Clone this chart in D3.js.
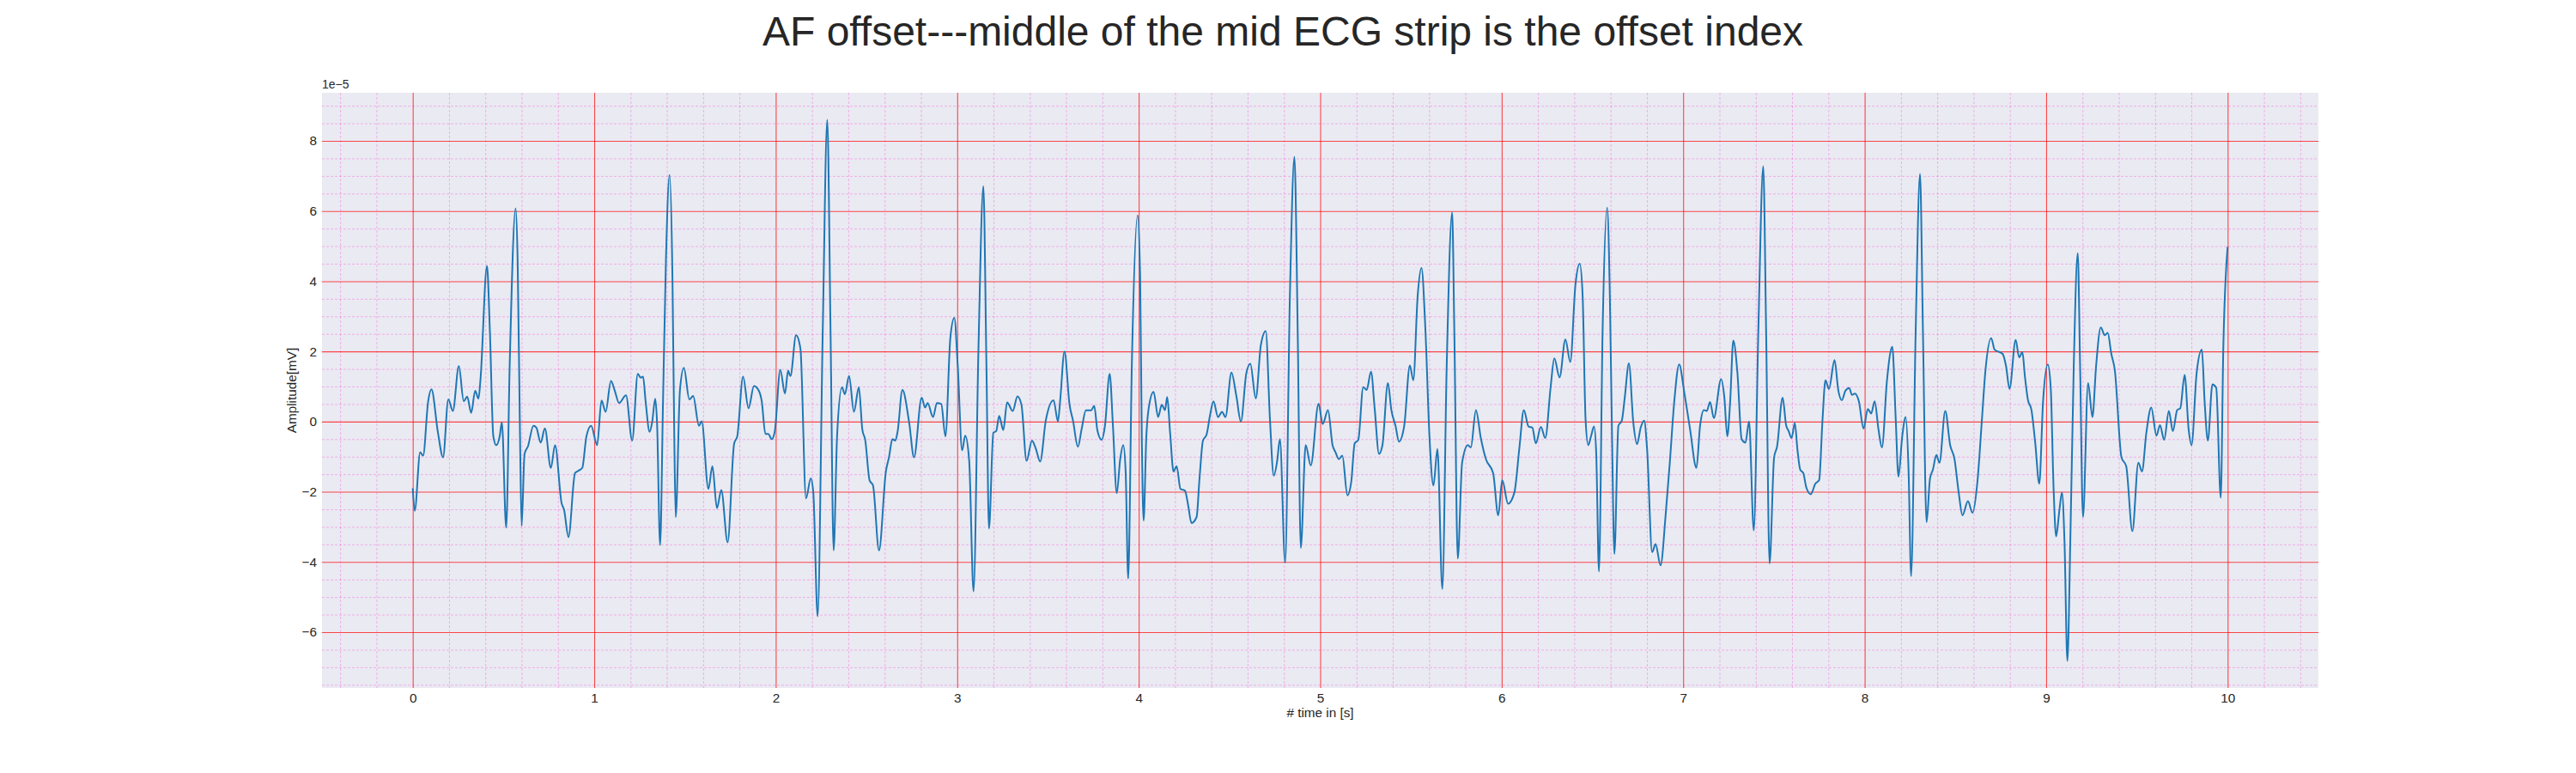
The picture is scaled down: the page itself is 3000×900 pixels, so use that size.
<!DOCTYPE html>
<html>
<head>
<meta charset="utf-8">
<script src="https://cdn.jsdelivr.net/npm/d3@7"></script>
<style>
  body { margin: 0; background: #fff; }
  svg text { font-family: "Liberation Sans", Arial, sans-serif; fill: #262626; }
</style>
</head>
<body>
<svg id="chart"></svg>
<script>
var titleText = "AF offset---middle of the mid ECG strip is the offset index";
var xLabel = "# time in [s]";
var yLabel = "Amplitude[mV]";
var offsetLabel = "1e\u22125";

// sample times, seconds
var timeSec = [
  0.000, 0.011, 0.041, 0.057, 0.085, 0.103, 0.139, 0.167, 0.196, 0.221, 0.254, 0.281, 0.300, 0.322, 0.344, 0.362, 0.373, 0.409, 0.425, 0.444,
  0.460, 0.479, 0.491, 0.515, 0.534, 0.567, 0.578, 0.591, 0.600, 0.616, 0.635, 0.665, 0.681, 0.705, 0.728, 0.761, 0.784, 0.820, 0.834, 0.858,
  0.894, 0.913, 0.934, 0.957, 0.983, 1.016, 1.040, 1.063, 1.092, 1.112, 1.137, 1.175, 1.209, 1.240,
  1.256, 1.269, 1.283, 1.305, 1.319, 1.336, 1.346, 1.363, 1.379, 1.395, 1.415, 1.431, 1.441, 1.449, 1.472, 1.494, 1.524, 1.545, 1.577, 1.592,
  1.629, 1.651, 1.676, 1.700, 1.735, 1.771, 1.788, 1.820, 1.850, 1.880, 1.907, 1.923, 1.943, 1.959, 1.978, 1.995, 2.025, 2.051, 2.068, 2.081,
  2.112, 2.136, 2.167, 2.193, 2.207, 2.231, 2.259, 2.284, 2.302, 2.319, 2.338, 2.365, 2.381, 2.404, 2.431, 2.458,
  2.477, 2.493, 2.517, 2.536, 2.569, 2.607, 2.624, 2.643, 2.659, 2.672, 2.698, 2.735, 2.762, 2.804, 2.823, 2.837, 2.867, 2.888, 2.912, 2.935,
  2.962, 2.984, 3.003, 3.027, 3.044, 3.066, 3.090, 3.117, 3.144, 3.161, 3.175, 3.199, 3.215, 3.231, 3.254, 3.275, 3.306, 3.332, 3.354, 3.382,
  3.412, 3.433, 3.457, 3.488, 3.531, 3.555, 3.567, 3.591, 3.619, 3.638, 3.665, 3.686, 3.709, 3.738, 3.755,
  3.772, 3.796, 3.814, 3.840, 3.858, 3.879, 3.898, 3.915, 3.928, 3.942, 3.962, 3.994, 4.008, 4.017, 4.027, 4.042, 4.055, 4.082, 4.107, 4.127,
  4.145, 4.157, 4.173, 4.192, 4.209, 4.230, 4.255, 4.272, 4.291, 4.319, 4.335, 4.354, 4.374, 4.393, 4.412, 4.437, 4.459, 4.478, 4.511, 4.538,
  4.563, 4.593, 4.615, 4.645, 4.673, 4.700, 4.723, 4.744, 4.763, 4.778, 4.807, 4.833, 4.858, 4.876, 4.893, 4.920, 4.948, 4.991, 5.014,
  5.043, 5.068, 5.084, 5.103, 5.122, 5.150, 5.171, 5.190, 5.210, 5.237, 5.256, 5.280, 5.300, 5.324, 5.343, 5.373, 5.392, 5.415, 5.434, 5.463,
  5.494, 5.513, 5.537, 5.558, 5.580, 5.602, 5.624, 5.646, 5.673, 5.697, 5.727, 5.739, 5.758, 5.782, 5.814, 5.830, 5.858, 5.885, 5.913, 5.953,
  5.981, 6.003, 6.035, 6.070, 6.098, 6.122, 6.148, 6.169, 6.188, 6.216, 6.240, 6.270, 6.290, 6.319, 6.351, 6.378, 6.406, 6.430, 6.446, 6.462,
  6.477, 6.493, 6.509, 6.521, 6.536, 6.556, 6.581, 6.596, 6.608, 6.621, 6.643, 6.662, 6.678, 6.701, 6.725, 6.746, 6.766, 6.785, 6.801, 6.829,
  6.848, 6.875, 6.904, 6.927, 6.951, 6.978, 7.006, 7.038, 7.073, 7.093, 7.114, 7.130, 7.148, 7.169, 7.209, 7.227, 7.243, 7.259, 7.276, 7.299,
  7.322, 7.343, 7.363, 7.389, 7.414, 7.441, 7.457, 7.476, 7.501, 7.517, 7.548,
  7.567, 7.581, 7.597, 7.615, 7.630, 7.645, 7.662, 7.678, 7.703, 7.728, 7.749, 7.768, 7.784, 7.803, 7.834, 7.855, 7.874, 7.894, 7.915, 7.930,
  7.946, 7.968, 7.994, 8.017, 8.036, 8.055, 8.076, 8.095, 8.123, 8.152, 8.171, 8.186, 8.207, 8.226, 8.242, 8.256, 8.281, 8.305, 8.321, 8.341,
  8.360, 8.376, 8.395, 8.412, 8.444, 8.471, 8.495, 8.518, 8.539, 8.569, 8.594, 8.622, 8.645, 8.665, 8.697, 8.716, 8.760, 8.779, 8.798, 8.832,
  8.851, 8.869, 8.883, 8.899, 8.919, 8.940, 8.962, 8.983, 9.009, 9.025, 9.041, 9.055, 9.073, 9.087, 9.101, 9.117, 9.133, 9.152, 9.174, 9.187,
  9.203, 9.231, 9.255, 9.275, 9.301, 9.323, 9.339, 9.359, 9.378, 9.415, 9.441, 9.475, 9.508, 9.528, 9.552, 9.579, 9.608, 9.627, 9.650, 9.676,
  9.698, 9.722, 9.739, 9.763, 9.785, 9.801, 9.829, 9.858, 9.873, 9.891, 9.916, 9.937, 9.962, 9.976, 10.000
];

// amplitude, in units of 1e-5 mV (see offset label)
var amp = [
  -1.90, -2.54, -0.87, -0.97, 0.58, 0.92, -0.32, -1.02, 0.63, 0.30, 1.58, 0.58, 0.71, 0.25, 0.88, 0.65, 1.18, 4.43, 2.58, -0.42,
  -0.67, -0.42, -0.02, -3.02, 1.58, 6.08, 4.58, -0.42, -2.97, -0.92, -0.70, -0.12, -0.17, -0.60, -0.19, -1.32, -0.67, -2.32, -2.52, -3.29,
  -1.47, -1.40, -1.32, -0.42, -0.12, -0.67, 0.60, 0.28, 1.16, 0.90, 0.53, 0.75, -0.54, 1.36,
  1.25, 1.28, 0.58, -0.29, -0.02, 0.65, -0.02, -3.52, 0.58, 4.58, 7.03, 4.08, -0.42, -2.72, 0.88, 1.53, 0.63, 0.73, -0.12, 0.01,
  -1.92, -1.27, -2.47, -1.95, -3.44, -0.62, -0.42, 1.28, 0.38, 1.01, 0.88, 0.58, -0.35, -0.35, -0.50, -0.27, 1.48, 0.80, 1.45, 1.30,
  2.46, 2.08, -2.19, -1.62, -2.02, -5.55, 2.58, 8.60, 2.58, -3.67, -0.42, 0.98, 0.78, 1.30, 0.28, 0.98,
  -0.22, -0.52, -1.67, -1.82, -3.67, -1.42, -1.02, -0.50, -0.54, -0.27, 0.90, -0.02, -1.02, 0.68, 0.40, 0.53, 0.13, 0.53, 0.50, -0.42,
  2.38, 2.96, 1.58, -0.82, -0.40, -1.12, -4.84, 2.08, 6.71, 1.58, -3.05, -0.32, -0.27, 0.16, -0.24, 0.55, 0.30, 0.72, 0.48, -1.12,
  -0.54, -0.77, -1.14, 0.03, 0.61, 0.00, 0.58, 2.00, 0.48, 0.03, -0.72, -0.20, 0.32, 0.32, 0.45,
  -0.24, -0.52, -0.12, 1.36, -0.12, -2.04, -1.07, -0.67, -1.42, -4.47, 1.58, 5.88, 4.08, -0.42, -2.82, -0.42, 0.38, 0.85, 0.13, 0.48,
  0.33, 0.70, -0.32, -1.42, -1.27, -1.92, -1.97, -2.37, -2.89, -2.72, -1.62, -0.54, -0.37, 0.18, 0.58, 0.13, 0.28, 0.13, 1.40, 0.73,
  0.00, 1.38, 1.65, 0.66, 2.18, 2.58, 0.08, -1.54, -1.12, -0.50, -4.02, 3.58, 7.55, 2.58, -3.60, -0.67, -1.25, 0.51, -0.07,
  0.33, -0.67, -0.87, -1.07, -0.97, -2.10, -1.72, -0.62, -0.52, 0.98, 0.90, 1.42, 0.38, -0.92, -0.67, 1.10, 0.33, -0.12, -0.57, -0.12,
  1.60, 1.18, 3.58, 4.38, 2.58, -0.42, -1.82, -0.78, -4.77, 1.58, 5.96, 2.58, -3.90, -1.17, -0.67, -0.74, 0.33, -0.47, -1.07, -1.47,
  -2.67, -1.67, -2.34, -2.02, -0.72, 0.33, -0.14, -0.17, -0.62, -0.15, -0.47, 1.00, 1.80, 1.26, 2.34, 1.70, 3.88, 4.50, 3.58, 0.08,
  -0.67, -0.40, -0.14, -0.92, -4.27, 2.58, 6.10, 3.58, -0.42, -3.77, -0.12, 0.03, 0.68, 1.66, -0.02, -0.64, -0.17, 0.03, -0.77, -3.72,
  -3.49, -4.10, -2.62, -1.12, 0.58, 1.63, 0.83, -0.22, -1.32, -0.12, 0.33, 0.30, 0.56, 0.10, 1.21, 0.68, -0.42, 0.58, 2.31, 1.38,
  -0.50, -0.60, 0.00, -3.10, 2.58, 7.28, 2.58, -4.04, -1.02, -0.72, 0.68,
  -0.10, -0.27, -0.47, -0.04, -0.82, -1.37, -1.47, -1.87, -2.07, -1.77, -1.67, 0.08, 1.18, 0.93, 1.75, 0.88, 0.61, 0.88, 0.96, 0.76,
  0.80, 0.58, -0.20, 0.36, 0.23, 0.58, -0.22, -0.74, 1.18, 2.13, 0.08, -1.57, -0.42, 0.13, -1.42, -4.40, 2.58, 7.06, 2.58, -2.87,
  -1.62, -1.37, -0.95, -1.17, 0.30, -0.67, -1.07, -2.02, -2.67, -2.27, -2.60, -1.67, -0.02, 1.43, 2.38, 2.05, 1.93, 1.58, 0.93, 2.33,
  1.83, 1.98, 1.28, 0.63, 0.33, -0.62, -1.77, 0.58, 1.63, 0.98, -1.92, -3.27, -2.52, -2.02, -3.42, -6.82, -3.42, 1.58, 4.80, 1.58,
  -2.72, 1.10, 0.13, 1.58, 2.68, 2.46, 2.53, 1.93, 1.48, -1.02, -1.27, -3.12, -1.17, -1.42, -0.32, 0.40, -0.40, -0.10, -0.52, 0.30,
  -0.27, 0.33, 0.38, 1.33, -0.22, -0.67, 1.38, 2.05, 0.58, -0.54, 1.06, 0.96, -2.17, 2.08, 4.98
];

var xTicks = [0, 1, 2, 3, 4, 5, 6, 7, 8, 9, 10];
var yTicks = [-6, -4, -2, 0, 2, 4, 6, 8];
var xMinorStep = 0.2;
var yMinorStep = 0.5;

var W = 3000, H = 900;
var margin = {top: 108, right: 300, bottom: 99, left: 375};
var width = W - margin.left - margin.right;
var height = H - margin.top - margin.bottom;

var data = timeSec.map(function(t, i) { return {t: t, v: amp[i]}; });

// matplotlib-like 5% padding
function padded(ext) {
  var d = (ext[1] - ext[0]) * 0.05;
  return [ext[0] - d, ext[1] + d];
}

var xScale = d3.scaleLinear()
  .domain(padded(d3.extent(data, function(d) { return d.t; })))
  .range([0, width]);
var yScale = d3.scaleLinear()
  .domain(padded(d3.extent(data, function(d) { return d.v; })))
  .range([height, 0]);

var svg = d3.select("#chart")
  .attr("width", W)
  .attr("height", H);

svg.append("rect")
  .attr("width", W)
  .attr("height", H)
  .attr("fill", "#fff");

var g = svg.append("g")
  .attr("transform", "translate(" + margin.left + "," + margin.top + ")");

g.append("rect")
  .attr("width", width)
  .attr("height", height)
  .attr("fill", "#EAEAF2");

// minor grid
function minorVals(scale, step, majors) {
  var dom = scale.domain();
  return d3.range(Math.ceil(dom[0] / step), Math.floor(dom[1] / step) + 1)
    .map(function(k) { return +(k * step).toFixed(3); })
    .filter(function(v) { return majors.indexOf(v) < 0; });
}

g.append("g")
  .attr("class", "minor-x")
  .attr("transform", "translate(0," + height + ")")
  .call(d3.axisBottom(xScale)
    .tickValues(minorVals(xScale, xMinorStep, xTicks))
    .tickSize(-height)
    .tickFormat(""))
  .call(function(a) { a.select(".domain").remove(); });

g.append("g")
  .attr("class", "minor-y")
  .call(d3.axisLeft(yScale)
    .tickValues(minorVals(yScale, yMinorStep, yTicks))
    .tickSize(-width)
    .tickFormat(""))
  .call(function(a) { a.select(".domain").remove(); });

g.selectAll(".minor-x line, .minor-y line")
  .attr("stroke", "rgba(255, 0, 200, 0.25)")
  .attr("stroke-width", 1)
  .attr("stroke-dasharray", "3,2");

// major grid
g.append("g")
  .attr("class", "major-x")
  .attr("transform", "translate(0," + height + ")")
  .call(d3.axisBottom(xScale)
    .tickValues(xTicks)
    .tickSize(-height)
    .tickFormat(""))
  .call(function(a) { a.select(".domain").remove(); });

g.append("g")
  .attr("class", "major-y")
  .call(d3.axisLeft(yScale)
    .tickValues(yTicks)
    .tickSize(-width)
    .tickFormat(""))
  .call(function(a) { a.select(".domain").remove(); });

g.selectAll(".major-x line, .major-y line")
  .attr("stroke", "#ff0000")
  .attr("stroke-opacity", 0.7)
  .attr("stroke-width", 1.1);

// the ECG trace
var line = d3.line()
  .x(function(d) { return xScale(d.t); })
  .y(function(d) { return yScale(d.v); })
  .curve(d3.curveMonotoneX);

g.append("path")
  .datum(data)
  .attr("fill", "none")
  .attr("stroke", "#1f77b4")
  .attr("stroke-width", 2)
  .attr("stroke-linejoin", "round")
  .attr("d", line);

// tick labels
var xAxis = g.append("g")
  .attr("transform", "translate(0," + height + ")")
  .call(d3.axisBottom(xScale).tickValues(xTicks).tickSize(0).tickPadding(6)
    .tickFormat(d3.format("d")));
var yAxis = g.append("g")
  .call(d3.axisLeft(yScale).tickValues(yTicks).tickSize(0).tickPadding(6)
    .tickFormat(d3.format("d")));

[xAxis, yAxis].forEach(function(a) {
  a.select(".domain").remove();
  a.selectAll("text")
    .attr("fill", "#262626")
    .style("font-size", "15.3px");
});

// offset text above the y axis
g.append("text")
  .attr("x", 0)
  .attr("y", -5)
  .style("font-size", "14px")
  .text(offsetLabel);

// axis labels
g.append("text")
  .attr("x", width / 2)
  .attr("y", height + 34)
  .attr("text-anchor", "middle")
  .style("font-size", "15.3px")
  .text(xLabel);

g.append("text")
  .attr("transform", "translate(-30," + (height / 2) + ") rotate(-90)")
  .attr("text-anchor", "middle")
  .style("font-size", "15.3px")
  .text(yLabel);

// title
svg.append("text")
  .attr("x", 1494)
  .attr("y", 53)
  .attr("text-anchor", "middle")
  .style("font-size", "48px")
  .text(titleText);
</script>
</body>
</html>
